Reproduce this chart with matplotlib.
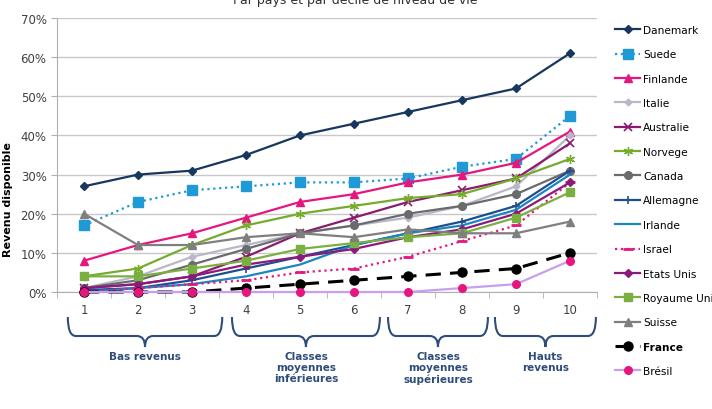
import matplotlib.pyplot as plt
import matplotlib.transforms as mtransforms
from matplotlib.path import Path
from matplotlib.patches import PathPatch

deciles = [1, 2, 3, 4, 5, 6, 7, 8, 9, 10]

danemark = [27, 30, 31, 35, 40, 43, 46, 49, 52, 61]
suede = [17, 23, 26, 27, 28, 28, 29, 32, 34, 45]
finlande = [8, 12, 15, 19, 23, 25, 28, 30, 33, 41]
italie = [1, 4, 9, 12, 15, 17, 19, 22, 27, 40]
australie = [1, 2, 4, 9, 15, 19, 23, 26, 29, 38]
norvege = [4, 6, 12, 17, 20, 22, 24, 25, 29, 34]
canada = [1, 3, 7, 11, 15, 17, 20, 22, 25, 31]
allemagne = [0.5, 1, 3, 6, 9, 12, 15, 18, 22, 31]
irlande = [0, 1, 2, 4, 7, 12, 15, 17, 21, 30]
israel = [0, 1, 2, 3, 5, 6, 9, 13, 17, 28]
etats_unis = [1, 2, 4, 7, 9, 11, 14, 16, 20, 28]
royaume_uni = [4, 4, 6, 8, 11, 12.5, 14, 15, 19, 25.5]
suisse = [20, 12, 12, 14, 15, 14, 16, 15, 15, 18]
france = [0, 0, 0, 1, 2, 3, 4, 5, 6, 10]
bresil = [0, 0, 0, 0, 0, 0, 0, 1, 2, 8]

groupes = ["Bas revenus", "Classes\nmoyennes\ninférieures",
           "Classes\nmoyennes\nsupérieures", "Hauts\nrevenus"]

fig = plt.figure(figsize=(7.12, 4.10), dpi=100)
ax = fig.add_axes([57 / 712, 1 - 293 / 410, 540 / 712, 274 / 410])

series = [
    ("Danemark", danemark, dict(color="#17375e", marker="D", ms=4)),
    ("Suede", suede, dict(color="#1f9ad6", marker="s", ms=6.5, ls=":")),
    ("Finlande", finlande, dict(color="#e5177f", marker="^", ms=5.5)),
    ("Italie", italie, dict(color="#b8b8c8", marker="D", ms=3.5)),
    ("Australie", australie, dict(color="#8a1b6e", marker="x", ms=5.5, mew=1.2)),
    ("Norvege", norvege, dict(color="#76ab2e", marker=(6, 2, 0), ms=6.5, mew=1)),
    ("Canada", canada, dict(color="#6a6b6d", marker="o", ms=5.5)),
    ("Allemagne", allemagne, dict(color="#1f4e8c", marker="+", ms=5.5, mew=1.2)),
    ("Irlande", irlande, dict(color="#1a86c2")),
    ("Israel", israel, dict(color="#e0197f", marker="_", ms=6.5, mew=2, ls=":")),
    ("Etats Unis", etats_unis, dict(color="#8b1a7c", marker="D", ms=4.5)),
    ("Royaume Uni", royaume_uni, dict(color="#7ab041", marker="s", ms=6)),
    ("Suisse", suisse, dict(color="#7f7f7f", marker="^", ms=5.5)),
    ("France", france, dict(color="black", marker="o", ms=6.5, ls=(0, (5, 3)), lw=2.2)),
    ("Brésil", bresil, dict(color="#c89ef0", marker="o", ms=5.5,
                            mfc="#e5177f", mec="#e5177f")),
]

for name, vals, kw in series:
    kw.setdefault("lw", 1.6)
    z = 4 if name == "Brésil" else 3
    ax.plot(deciles, vals, label=name, zorder=z, clip_on=False, **kw)

ax.set_xlim(0.5, 10.5)
ax.set_ylim(0, 70)
ax.set_yticks(range(0, 71, 10))
ax.set_yticklabels([f"{v}%" for v in range(0, 71, 10)])
ax.set_xticks(deciles)
ax.set_xticks([d + 0.5 for d in range(0, 11)], minor=True)
ax.tick_params(axis="x", which="major", length=0, pad=8)
ax.tick_params(axis="x", which="minor", length=4, color="#b0b0b0")
ax.tick_params(axis="y", length=4, color="#b0b0b0")
ax.tick_params(labelsize=8.5, labelcolor="#404040")
ax.grid(axis="y", color="#c8c8c8", lw=1)
ax.set_axisbelow(True)
for s in ["top", "right"]:
    ax.spines[s].set_visible(False)
for s in ["left", "bottom"]:
    ax.spines[s].set_color("#b0b0b0")

fig.text(8 / 712, 1 - 200 / 410, "Revenu disponible", rotation=90, fontsize=8,
         fontweight="bold", ha="center", va="center")
# titre coupé en haut, comme sur l'original
fig.text(355 / 712, 1 - 4 / 410, "Par pays et par décile de niveau de vie",
         fontsize=9, ha="center", va="baseline", color="#303030")

leg = ax.legend(loc="upper left", bbox_to_anchor=(615 / 712, 1 - 26 / 410),
                bbox_transform=fig.transFigure, frameon=False, fontsize=7.6,
                labelspacing=1.36, handlelength=2.4, handletextpad=0.25,
                borderaxespad=0, borderpad=0)
for t in leg.get_texts():
    if t.get_text() == "France":
        t.set_fontweight("bold")

# accolades sous l'axe
tr = mtransforms.blended_transform_factory(ax.transData, fig.transFigure)
bornes = [(0.70, 3.56), (3.74, 6.48), (6.63, 8.48), (8.61, 10.48)]
haut, bas, pointe = 1 - 318 / 410, 1 - 337 / 410, 1 - 348 / 410
d = 0.15
for (x0, x1), txt in zip(bornes, groupes):
    xm = (x0 + x1) / 2
    verts = [(x0, haut), (x0, bas), (x0 + d, bas),
             (xm - d, bas), (xm, bas), (xm, pointe),
             (xm, bas), (xm + d, bas),
             (x1 - d, bas), (x1, bas), (x1, haut)]
    codes = [Path.MOVETO, Path.CURVE3, Path.CURVE3,
             Path.LINETO, Path.CURVE3, Path.CURVE3,
             Path.CURVE3, Path.CURVE3,
             Path.LINETO, Path.CURVE3, Path.CURVE3]
    ax.add_patch(PathPatch(Path(verts, codes), transform=tr, fill=False,
                           ec="#2f4d7a", lw=1.5, clip_on=False))
    ax.text(xm, 1 - 352 / 410, txt, transform=tr, ha="center", va="top",
            fontsize=7.5, fontweight="bold", color="#2f4d7a", linespacing=1.15)

fig.savefig("out.png", dpi=100)
